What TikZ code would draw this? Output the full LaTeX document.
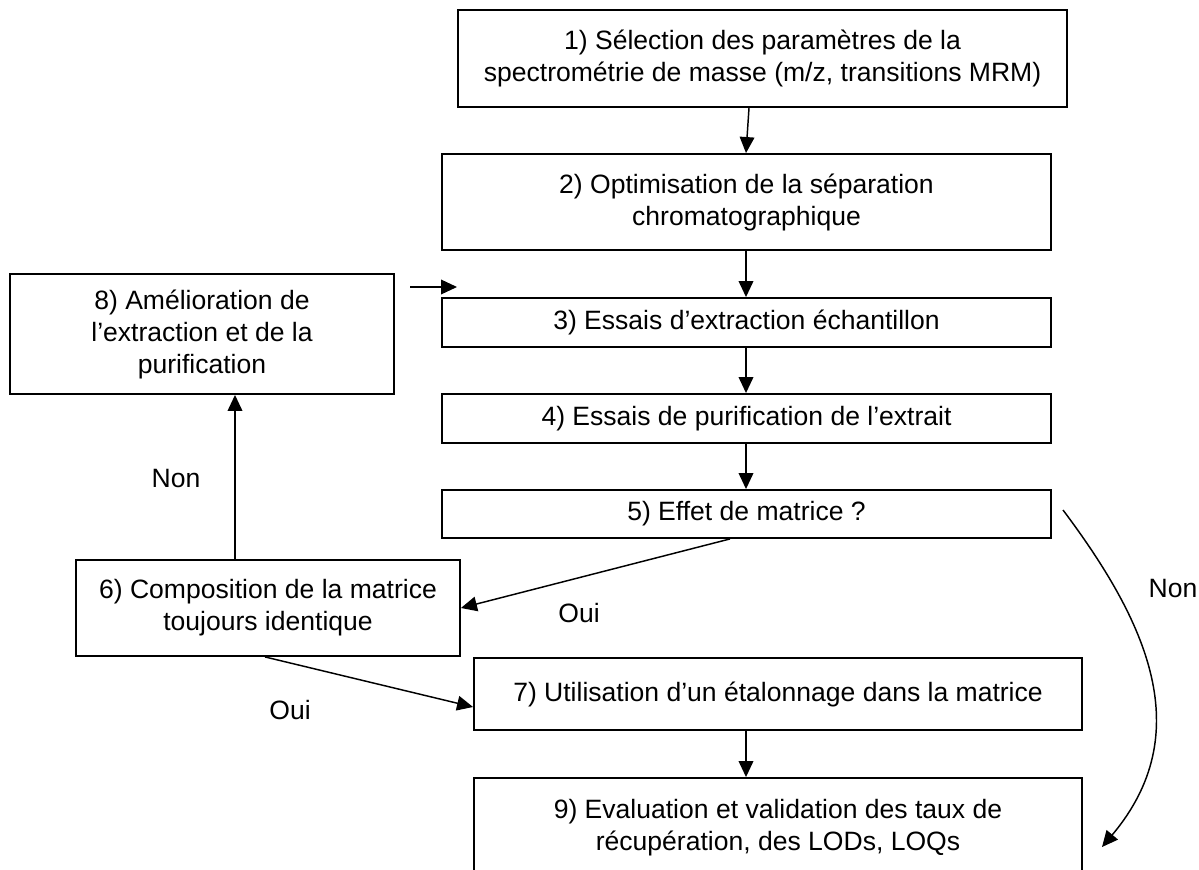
\documentclass[tikz,border=0pt]{standalone}
\usepackage{fontspec}
\setmainfont{Liberation Sans}
\usetikzlibrary{arrows.meta,calc}
\begin{document}
\begin{tikzpicture}[x=0.75pt,y=-0.75pt,
  txt/.style={font=\fontsize{19.9}{24}\selectfont},
  box/.style={txt, draw, line width=1.4pt, inner sep=0pt, align=center},
  lbl/.style={txt, inner sep=0pt},
  arr/.style={line width=1.1pt, -{Triangle[length=12pt,width=11pt]}}]
\fill[white] (0,0) rectangle (1199,870);
\useasboundingbox (0,0) rectangle (1199,870);

\node[box, minimum width=456.75pt, minimum height=72.75pt] (b1) at (762.5,58.5)
  {1) Sélection des paramètres de la\\spectrométrie de masse (m/z, transitions MRM)};
\node[box, minimum width=456.75pt, minimum height=72pt] (b2) at (746.5,202)
  {2) Optimisation de la séparation\\chromatographique};
\node[box, minimum width=456.75pt, minimum height=36.75pt] (b3) at (746.5,322.5)
  {3) Essais d’extraction échantillon};
\node[box, minimum width=456.75pt, minimum height=36.75pt] (b4) at (746.5,418.5)
  {4) Essais de purification de l’extrait};
\node[box, minimum width=456.75pt, minimum height=36pt] (b5) at (746.5,514)
  {5) Effet de matrice ?};
\node[box, minimum width=288pt, minimum height=72pt] (b6) at (268,608)
  {6) Composition de la matrice\\toujours identique};
\node[box, minimum width=456pt, minimum height=54pt] (b7) at (778,694)
  {7) Utilisation d’un étalonnage dans la matrice};
\node[box, minimum width=288pt, minimum height=90pt] (b8) at (202,334)
  {8) Amélioration de\\l’extraction et de la\\purification};
\node[box, minimum width=456pt, minimum height=75pt] (b9) at (778,828)
  {9) Evaluation et validation des taux de\\récupération, des LODs, LOQs};

\node[lbl] (non1) at (176,478) {Non};
\node[lbl] (non2) at (1173,588) {Non};
\node[lbl] (oui1) at (579,613) {Oui};
\node[lbl] (oui2) at (290,710) {Oui};

\coordinate (xv) at (746,0);
\coordinate (xa) at (749,0);
\coordinate (x5) at (730,0);
\coordinate (x6) at (265,0);
\coordinate (x8) at (235,0);
\coordinate (fa) at (410,287);
\coordinate (fb) at (457,287);
\coordinate (cs) at (1063,510);
\coordinate (ce) at (1102,847);

\draw[arr] (b1.south -| xa) -- (b2.north -| xv);
\draw[arr] (b2.south -| xv) -- (b3.north -| xv);
\draw[arr] (b3.south -| xv) -- (b4.north -| xv);
\draw[arr] (b4.south -| xv) -- (b5.north -| xv);
\draw[arr] (b7.south -| xv) -- (b9.north -| xv);
\draw[arr] (fa) -- (fb);
\draw[arr] (b5.south -| x5) -- (b6.east);
\draw[arr] (b6.south -| x6) -- ($(b7.west)+(0,13)$);
\draw[arr] (b6.north -| x8) -- (b8.south -| x8);
\draw[arr] (cs) .. controls (1147,622) and (1198,733) .. (ce);
\end{tikzpicture}
\end{document}
